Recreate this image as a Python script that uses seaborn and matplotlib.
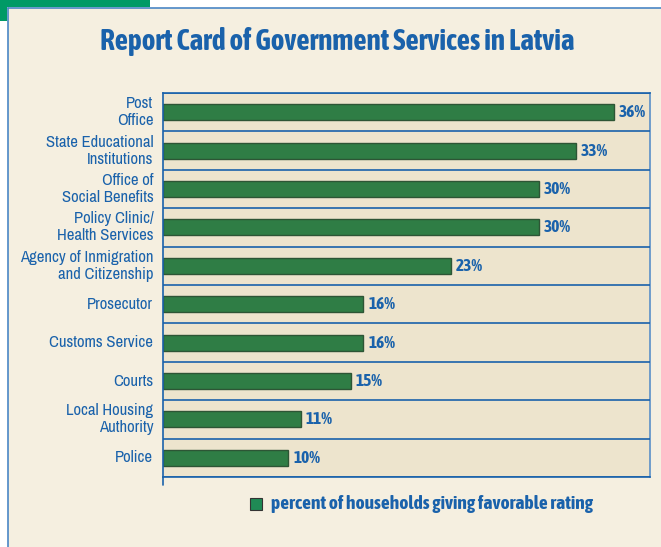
import matplotlib
matplotlib.use("Agg")
import matplotlib.pyplot as plt
import matplotlib.patches as mpatches
from matplotlib import font_manager
import pandas as pd
import seaborn as sns

services = ["Post\nOffice", "State Educational\nInstitutions", "Office of\nSocial Benefits",
            "Policy Clinic/\nHealth Services", "Agency of Inmigration\nand Citizenship",
            "Prosecutor", "Customs Service", "Courts", "Local Housing\nAuthority", "Police"]
favorable = [36, 33, 30, 30, 23, 16, 16, 15, 11, 10]

df = pd.DataFrame({"service": services, "pct": favorable})

blue = '#1a62ab'
green = '#2f7d45'
cream = '#f5efe0'

sns.set_style("white")
narrow = [f for f in font_manager.fontManager.ttflist if 'Narrow' in f.name or 'Condensed' in f.name]
bold = [f.fname for f in narrow if 'Bold' in f.fname and 'Italic' not in f.fname]
plt.rcParams['font.family'] = [narrow[0].name, 'Liberation Sans', 'DejaVu Sans'] if narrow else ['Liberation Sans']
bold_fp = font_manager.FontProperties(fname=bold[0]) if bold else font_manager.FontProperties(weight='bold')


def bfp(size):
    fp = bold_fp.copy()
    fp.set_size(size)
    return fp


fig = plt.figure(figsize=(6.61, 5.47), dpi=100)
fig.patch.set_facecolor('white')

# page frame
fig.patches.append(mpatches.Rectangle((8 / 661, 0), 1, 1 - 8 / 547, transform=fig.transFigure,
                                      facecolor=cream, edgecolor='none', zorder=-5))
fig.lines.append(plt.Line2D([8 / 661, 8 / 661], [0, 1 - 8 / 547], transform=fig.transFigure,
                            color='#4a86c5', linewidth=1.2, zorder=-4))
fig.lines.append(plt.Line2D([8 / 661, 1], [1 - 8 / 547, 1 - 8 / 547], transform=fig.transFigure,
                            color='#4a86c5', linewidth=1.2, zorder=-4))
fig.patches.append(mpatches.Rectangle((0, 1 - 7 / 547), 150 / 661, 7 / 547, transform=fig.transFigure,
                                      facecolor='#009a66', edgecolor='none', zorder=-3))
fig.patches.append(mpatches.Rectangle((0, 1 - 21 / 547), 7 / 661, 21 / 547, transform=fig.transFigure,
                                      facecolor='#009a66', edgecolor='none', zorder=-3))

ax = fig.add_axes([163 / 661, 70 / 547, 487 / 661, 384 / 547])
ax.set_facecolor('#ede4cd')

sns.barplot(data=df, y="service", x="pct", orient='h', color=green, width=0.42,
            edgecolor='#2d5535', linewidth=1.0, saturation=1, ax=ax)

for i, v in enumerate(favorable):
    ax.text(v + 0.4, i, f"{v}%", va='center', ha='left', fontproperties=bfp(12.5), color=blue)

ax.set_xlim(0, 38.9)
ax.set_ylim(len(services) - 0.5, -0.5)
for b in range(len(services) + 1):
    ax.axhline(b - 0.5, color=blue, linewidth=1.2, zorder=3)

for side in ['left', 'right', 'top', 'bottom']:
    ax.spines[side].set_color(blue)
    ax.spines[side].set_linewidth(1.2)
ax.spines['right'].set_color('#5a8fc8')
ax.plot([0, 0], [0, -0.02], transform=ax.transAxes, color=blue, linewidth=1.2, clip_on=False)

# category labels, right aligned line by line
ax.set_xticks([])
ax.set_yticklabels([])
ax.tick_params(axis='y', length=0)
ax.set_xlabel("")
ax.set_ylabel("")
ytrans = matplotlib.transforms.blended_transform_factory(ax.transAxes, ax.transData)
for i, name in enumerate(services):
    ax.text(-0.02, i, name, transform=ytrans, ha='right', va='center', multialignment='right',
            fontsize=12, color=blue, linespacing=1.15)

fig.text(0.51, 1 - 42 / 547, "Report Card of Government Services in Latvia", ha='center', va='center',
         fontproperties=bfp(21), color=blue)

# legend
fig.patches.append(mpatches.Rectangle((250 / 661, 1 - 510 / 547), 12 / 661, 12 / 547,
                                      transform=fig.transFigure, facecolor='#1f8a55',
                                      edgecolor='#333333', linewidth=0.8))
fig.text(271 / 661, 1 - 504 / 547, "percent of households giving favorable rating",
         ha='left', va='center', fontproperties=bfp(14), color=blue)

fig.savefig("out.png", dpi=100)
